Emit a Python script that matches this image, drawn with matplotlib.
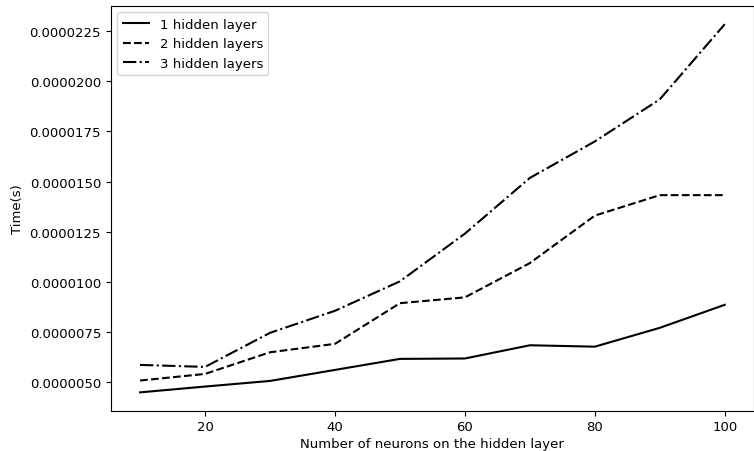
import matplotlib; matplotlib.use("Agg"); import matplotlib.pyplot as plt

plt.rcParams["font.size"] = 9.5

neurons = [10, 20, 30, 40, 50, 60, 70, 80, 90, 100]
# mean time per sample (s) for each network depth
t_1layer = [4.48e-6, 4.77e-6, 5.05e-6, 5.6e-6, 6.15e-6, 6.17e-6, 6.83e-6, 6.76e-6, 7.7e-6, 8.85e-6]
t_2layers = [5.07e-6, 5.4e-6, 6.48e-6, 6.9e-6, 8.93e-6, 9.22e-6, 10.93e-6, 13.3e-6, 14.32e-6, 14.32e-6]
t_3layers = [5.85e-6, 5.75e-6, 7.45e-6, 8.55e-6, 10.02e-6, 12.4e-6, 15.18e-6, 17.0e-6, 19.1e-6, 22.85e-6]

fig, ax = plt.subplots(figsize=(7.54, 4.52), dpi=100)
ax.plot(neurons, t_1layer, "k-", label="1 hidden layer")
ax.plot(neurons, t_2layers, "k--", label="2 hidden layers")
ax.plot(neurons, t_3layers, "k-.", label="3 hidden layers")
ax.yaxis.set_major_formatter(plt.FormatStrFormatter("%.7f"))
ax.set_xlabel("Number of neurons on the hidden layer", labelpad=2.5)
ax.set_ylabel("Time(s)")
ax.legend(loc="upper left")
fig.subplots_adjust(left=0.147, right=1.0, top=0.985, bottom=0.089)
fig.savefig("out.png", dpi=100)
